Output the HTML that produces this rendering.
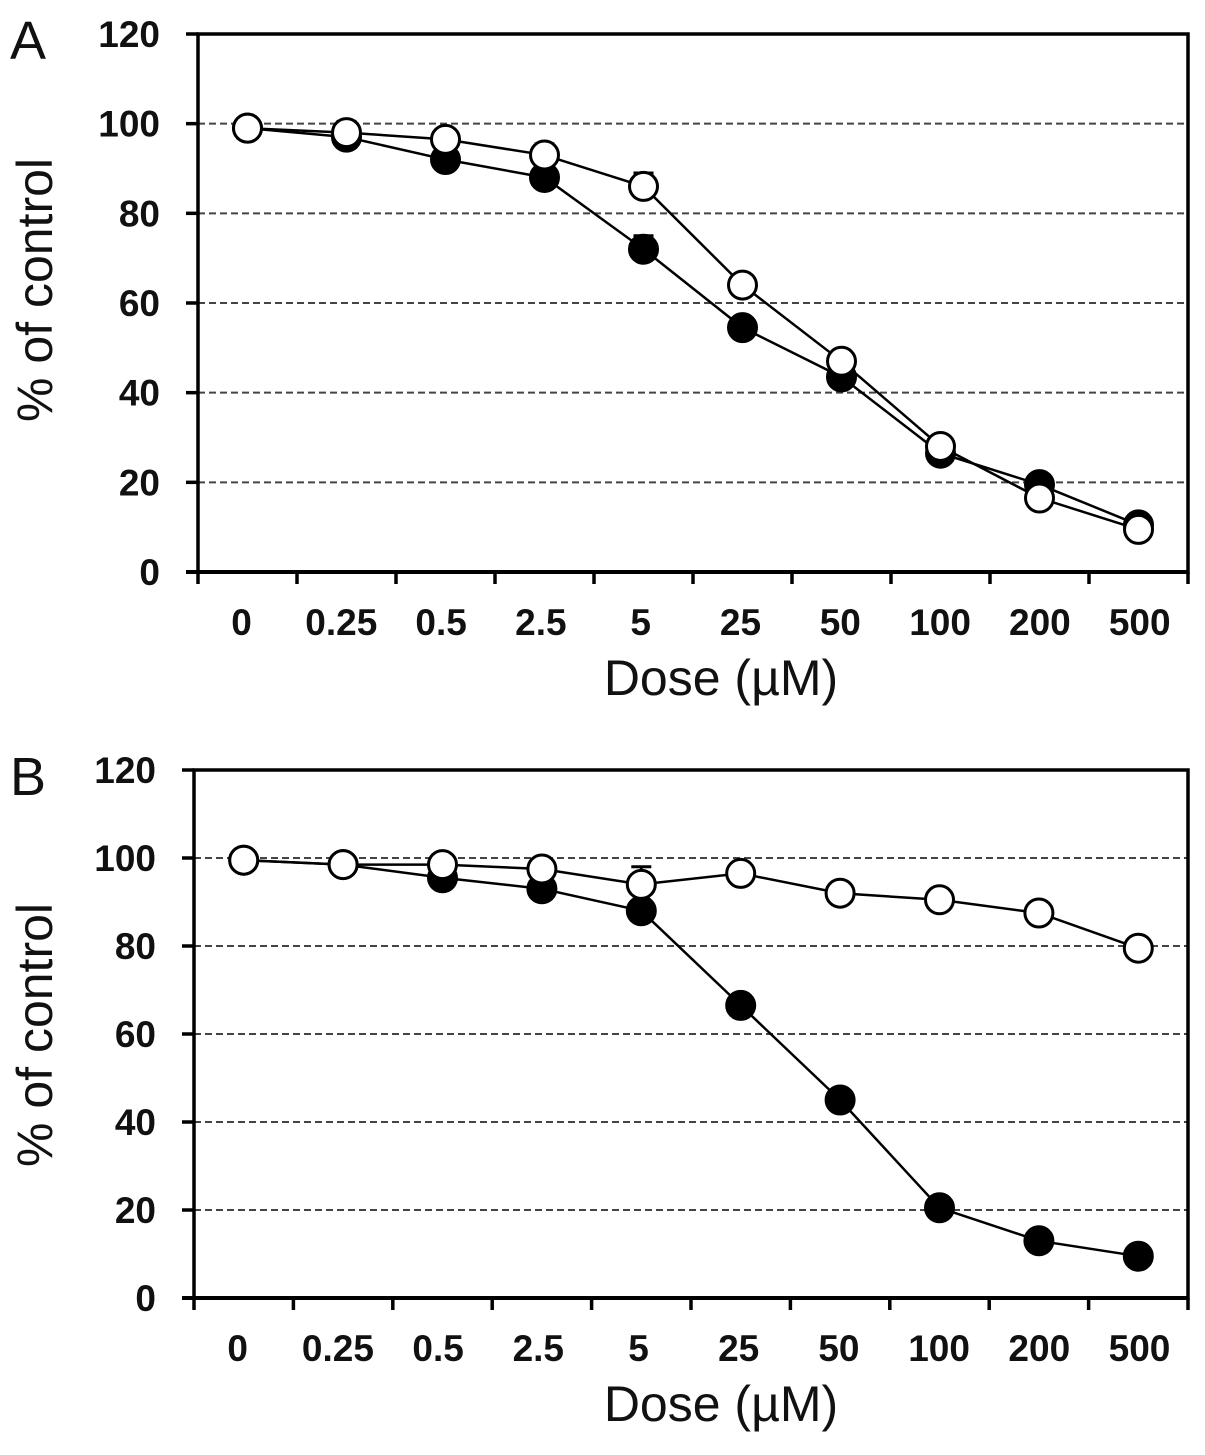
<!DOCTYPE html>
<html><head><meta charset="utf-8"><style>
html,body{margin:0;padding:0;background:#fff}
svg{display:block}
text{font-family:"Liberation Sans",Arial,sans-serif;fill:#111}
</style></head><body>
<svg id="chart" width="1205" height="1455" viewBox="0 0 1205 1455"></svg>
<script>
const categories=["0","0.25","0.5","2.5","5","25","50","100","200","500"];
const yTicks=[0,20,40,60,80,100,120];
const aFilled=[99,97,92,88,72,54.5,43.5,26.5,19.5,10.5];
const aOpen=[99,98,96.5,93,86,64,47,28,16.5,9.5];
const aFilledErr=[0,1,0,0,3,0,0,0,0,0];
const aOpenErr=[0,2.5,0,2.5,3,0,0,0,0,0];
const bFilled=[99.5,98.5,95.5,93,88,66.5,45,20.5,13,9.5];
const bOpen=[99.5,98.5,98.5,97.5,94,96.5,92,90.5,87.5,79.5];
const bFilledErr=[0,0,0,0,0,1.5,0,0,0,0];
const bOpenErr=[0,1,0,1.5,4,0,0,0,0,0];

const NS="http://www.w3.org/2000/svg";
const svg=document.getElementById('chart');
function mk(tag,attrs,parent,txt){const e=document.createElementNS(NS,tag);for(const k in attrs)e.setAttribute(k,attrs[k]);if(txt!==undefined)e.textContent=txt;(parent||svg).appendChild(e);return e;}

function panel(P){
  const g=mk('g',{});
  
  
  const x0=P.left,x1=1188,yb=P.bottom,yt=P.top;
  const step=(x1-x0)/categories.length;
  const xs=i=>x0+step*(i+0.5);
  const ys=v=>yb-(v/120)*(yb-yt);
  yTicks.forEach(t=>{
    if(t>0&&t<120){const l=mk('line',{x1:x0,x2:x1,y1:ys(t),y2:ys(t),stroke:'#444','stroke-width':2,'stroke-dasharray':'7,4'},g);
      }
    const tk=mk('line',{x1:x0-12,x2:x0,y1:ys(t),y2:ys(t),stroke:'#000','stroke-width':3.5},g);
    
    const tl=mk('text',{x:x0-38,y:ys(t)+13,'text-anchor':'end','font-size':37,'font-weight':'bold'},g,String(t));
    
  });
  const fr=mk('path',{d:`M${x0},${yb} L${x0},${yt} L${x1},${yt} L${x1},${yb} Z`,fill:'none',stroke:'#000','stroke-width':3.5},g);
  
  const xa=mk('line',{x1:x0-12,x2:x1,y1:yb,y2:yb,stroke:'#000','stroke-width':4},g);
  
  for(let i=0;i<=categories.length;i++){
    const t=mk('line',{x1:x0+step*i,x2:x0+step*i,y1:yb,y2:yb+12,stroke:'#000','stroke-width':3.5},g);
    
  }
  categories.forEach((c,i)=>{
    const t=mk('text',{x:xs(i)-6+i*0.8,y:yb+63,'text-anchor':'middle','font-size':37,'font-weight':'bold'},g,c);
    
  });
  const xt=mk('text',{x:721,y:yb+123,'text-anchor':'middle','font-size':50},g,'Dose (µM)');
  
  const yt2=mk('text',{x:0,y:0,'text-anchor':'middle','font-size':50,transform:`translate(52,${P.ycenter}) rotate(-90)`},g,'% of control');
  
  const pl=mk('text',{x:10,y:yt+25,'font-size':54},g,P.id);
  
  function series(vals,errs,fill,name){
    const pts=vals.map((v,i)=>xs(i)+','+ys(v)).join(' ');
    const ln=mk('polyline',{points:pts,fill:'none',stroke:'#000','stroke-width':2.5},g);
    
    vals.forEach((v,i)=>{
      if(errs[i]>0){
        const e=mk('path',{d:`M${xs(i)},${ys(v)} L${xs(i)},${ys(v+errs[i])} M${xs(i)-10},${ys(v+errs[i])} L${xs(i)+10},${ys(v+errs[i])}`,stroke:'#000','stroke-width':3,fill:'none'},g);
        
      }
    });
    vals.forEach((v,i)=>{
      const c=mk('circle',{cx:xs(i),cy:ys(v),r:14,fill:fill,stroke:'#000','stroke-width':3},g);
      
    });
  }
  series(P.filled,P.fErr,'#000','filled-series');
  series(P.open,P.oErr,'#fff','open-series');
}
panel({id:'A',left:198,top:34,bottom:572,ycenter:290,filled:aFilled,open:aOpen,fErr:aFilledErr,oErr:aOpenErr});
panel({id:'B',left:194,top:770,bottom:1298,ycenter:1035,filled:bFilled,open:bOpen,fErr:bFilledErr,oErr:bOpenErr});
</script>
</body></html>
